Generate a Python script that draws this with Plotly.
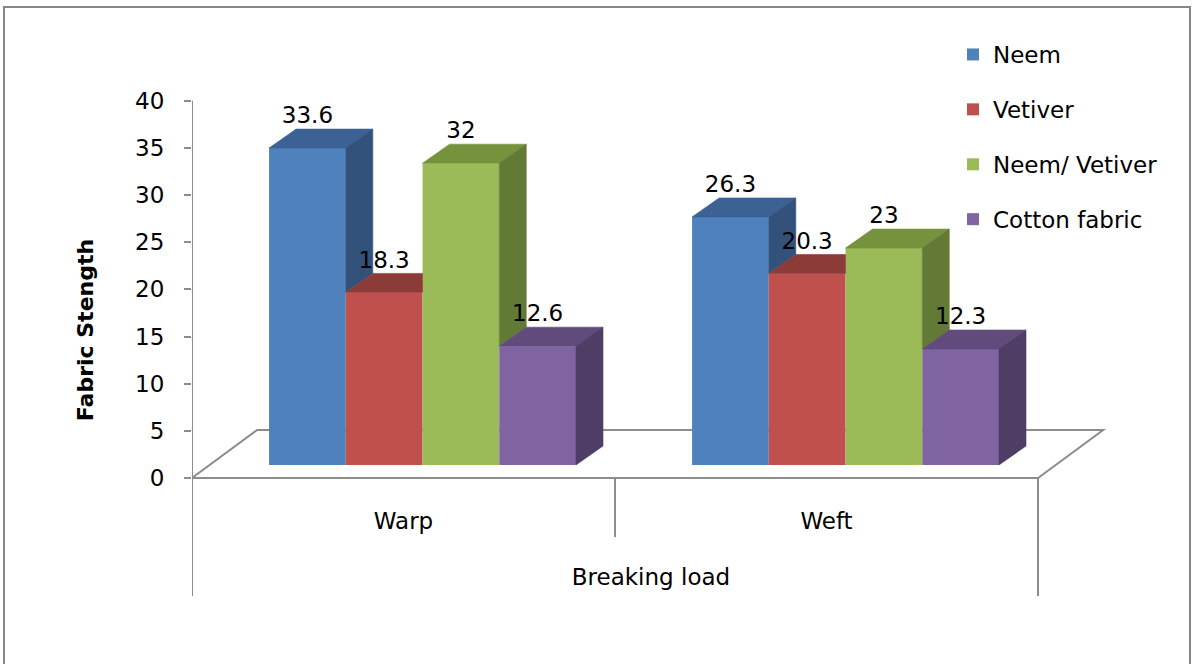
import plotly.graph_objects as go

# ---- data -------------------------------------------------------------
categories = ["Warp", "Weft"]
series_names = ["Neem", "Vetiver", "Neem/ Vetiver", "Cotton fabric"]
neem = [33.6, 26.3]
vetiver = [18.3, 20.3]
neem_vetiver = [32, 23]
cotton_fabric = [12.6, 12.3]
series_values = [neem, vetiver, neem_vetiver, cotton_fabric]
y_tick_values = [0, 5, 10, 15, 20, 25, 30, 35, 40]

# ---- colours: front / top / right side of each box ---------------------
front_colors = ["#4F81BD", "#C0504D", "#9BBB59", "#8064A2"]
top_colors = ["#3C6194", "#8D3B39", "#76923C", "#614B7C"]
side_colors = ["#33527B", "#7A3230", "#627A36", "#4E3D64"]

# ---- pseudo-3D geometry, in axis units ---------------------------------
BAR_W = 0.1814        # width of one bar (category spacing = 1)
ROW_SHIFT = 0.045     # bars sit part-way back on the floor
BASE = 1.38           # lift of the bar row above the front floor edge
DX, DY = 0.0638, 2.01          # receding depth of a bar
FLOOR_DX, FLOOR_DY = 0.154, 5.09
BOX_DEPTH = 12.5      # drop of the category box below the floor
MID_DEPTH = 6.25

FONT = "DejaVu Sans"
GRAY = "#8C8C8C"

# plot area in pixels: x 192..1110, y 60..600
X_RANGE = [-0.5, -0.5 + 918 / 423]
PX_PER_UNIT = 377.3 / 40
Y_RANGE = [-(600 - 478) / PX_PER_UNIT, (478 - 60) / PX_PER_UNIT]

fig = go.Figure()

n = len(series_names)
for i, name in enumerate(series_names):
    xs = [c + ROW_SHIFT + (i - (n - 1) / 2) * BAR_W for c in range(len(categories))]
    fig.add_trace(go.Bar(
        x=xs, y=series_values[i], base=BASE, width=BAR_W,
        name=name, legendgroup=name,
        marker=dict(color=front_colors[i], line=dict(width=0)),
        hovertemplate=name + ": %{y}<extra></extra>",
    ))

# top and side faces, trimmed where the next bar in the row hides them
for i in range(n):
    top_x, top_y, side_x, side_y = [], [], [], []
    for c in range(len(categories)):
        v = series_values[i][c]
        left = c + ROW_SHIFT + (i - (n - 1) / 2) * BAR_W - BAR_W / 2
        right = left + BAR_W
        nxt = series_values[i + 1][c] if i + 1 < n else None
        # top face
        hide = max(v, nxt) if nxt is not None else v
        y_cut = BASE + min(hide, v + DY)
        x_cut = right + DX * max(0.0, min(1.0, (v + DY - hide) / DY))
        top_x += [left, right, right, x_cut, left + DX, left, None]
        top_y += [BASE + v, BASE + v, y_cut, BASE + v + DY, BASE + v + DY, BASE + v, None]
        # side face
        lo = nxt if nxt is not None else 0
        if v > lo:
            side_x += [right, right, right + DX, right + DX, right, None]
            side_y += [BASE + lo, BASE + v, BASE + v + DY, BASE + lo + DY, BASE + lo, None]
    fig.add_trace(go.Scatter(x=top_x, y=top_y, mode="lines", fill="toself",
                             fillcolor=top_colors[i], line=dict(width=0.6, color=top_colors[i]),
                             hoverinfo="skip", showlegend=False))
    if side_x:
        fig.add_trace(go.Scatter(x=side_x, y=side_y, mode="lines", fill="toself",
                                 fillcolor=side_colors[i], line=dict(width=0.6, color=side_colors[i]),
                                 hoverinfo="skip", showlegend=False))

# value labels above each box
lab_x, lab_y, lab_t = [], [], []
for i in range(n):
    for c in range(len(categories)):
        v = series_values[i][c]
        lab_x.append(c + ROW_SHIFT + (i - (n - 1) / 2) * BAR_W)
        lab_y.append(BASE + v + DY)
        lab_t.append(f"{v:g}")
fig.add_trace(go.Scatter(x=lab_x, y=lab_y, text=lab_t, mode="text",
                         textposition="top center",
                         textfont=dict(family=FONT, size=23, color="black"),
                         hoverinfo="skip", showlegend=False))

# floor, value axis line and category box
shapes = [
    dict(type="path", xref="x", yref="y", layer="below",
         path=f"M -0.5,0 L 1.5,0 L {1.5 + FLOOR_DX},{FLOOR_DY} L {-0.5 + FLOOR_DX},{FLOOR_DY} Z",
         line=dict(color=GRAY, width=2)),
    dict(type="line", xref="x", yref="y", layer="below",
         x0=-0.5, x1=-0.5, y0=40, y1=-BOX_DEPTH, line=dict(color=GRAY, width=2)),
    dict(type="line", xref="x", yref="y", layer="below",
         x0=0.5, x1=0.5, y0=0, y1=-MID_DEPTH, line=dict(color=GRAY, width=2)),
    dict(type="line", xref="x", yref="y", layer="below",
         x0=1.5, x1=1.5, y0=0, y1=-BOX_DEPTH, line=dict(color=GRAY, width=2)),
    # chart frame (runs past the lower edge of the page)
    dict(type="rect", xref="paper", yref="paper",
         x0=(4 - 192) / 918, x1=(1190 - 192) / 918,
         y0=(600 - 668) / 540, y1=(600 - 7) / 540,
         line=dict(color="#868686", width=2)),
]

fig.update_layout(
    width=1195, height=664,
    margin=dict(l=192, r=85, t=60, b=64, autoexpand=False),
    paper_bgcolor="white", plot_bgcolor="white",
    barmode="overlay",
    shapes=shapes,
    font=dict(family=FONT, size=23, color="black"),
    xaxis=dict(
        range=X_RANGE, anchor="free", position=(600 - 505) / 540,
        tickvals=list(range(len(categories))), ticktext=categories,
        ticks="", showline=False, showgrid=False, zeroline=False,
        tickfont=dict(family=FONT, size=23, color="black"),
        title=dict(text="Breaking load", standoff=35,
                   font=dict(family=FONT, size=23, color="black")),
    ),
    yaxis=dict(
        range=Y_RANGE, tickvals=y_tick_values,
        ticks="outside", ticklen=7, tickwidth=2, tickcolor=GRAY,
        ticklabelstandoff=15,
        showline=False, showgrid=False, zeroline=False,
        tickfont=dict(family=FONT, size=23, color="black"),
        title=dict(text="<b>Fabric Stength</b>", standoff=35,
                   font=dict(family=FONT, size=22, color="black")),
    ),
    legend=dict(
        xref="container", yref="container",
        x=953 / 1195, y=1 - 33 / 664, xanchor="left", yanchor="top",
        font=dict(family=FONT, size=23, color="black"),
        traceorder="grouped", tracegroupgap=22,
        bgcolor="rgba(0,0,0,0)",
    ),
)

fig.write_html("out.html")
